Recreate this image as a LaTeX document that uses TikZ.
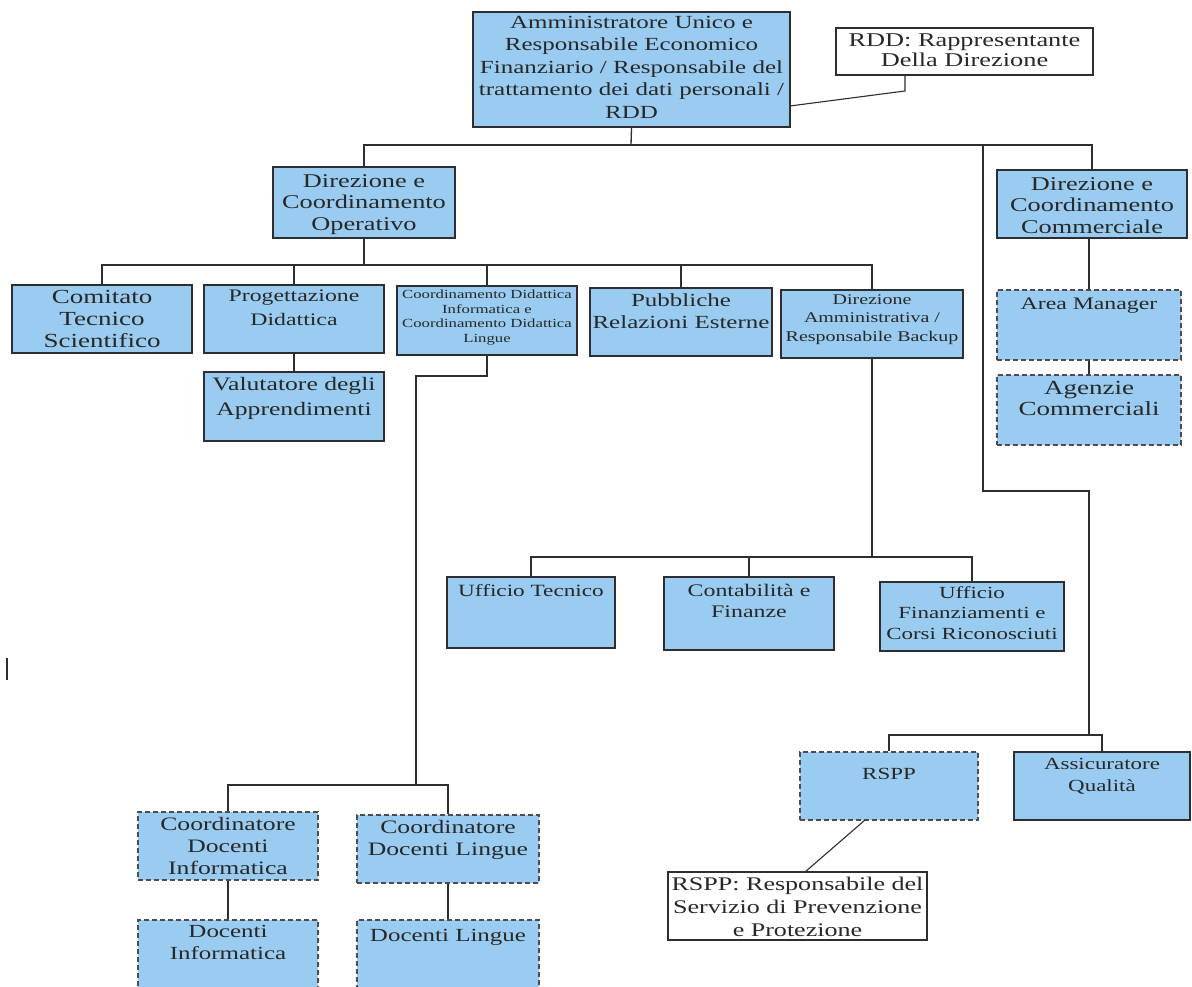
\documentclass[tikz,border=0pt]{standalone}
\usepackage{fontspec}
\setmainfont[FakeStretch=1.35]{Liberation Serif}
\usetikzlibrary{fit}
\definecolor{boxblue}{RGB}{153,204,240}
\definecolor{edge}{RGB}{45,45,50}
\definecolor{ink}{RGB}{40,40,40}
\tikzset{
  solidbox/.style={draw=edge, line width=1.8pt, fill=boxblue, inner sep=0pt, rectangle},
  dashbox/.style={draw=edge!85, line width=1.8pt, dash pattern=on 5pt off 3pt, fill=boxblue, inner sep=0pt, rectangle},
  notebox/.style={draw=edge, line width=1.4pt, fill=white, inner sep=0pt, rectangle},
  lbl/.style={anchor=north, align=center, inner sep=0pt, text=ink},
  fs/.style 2 args={font=\fontsize{#1}{#2}\selectfont},
  conn/.style={draw=edge, line width=1.3pt},
}
% name, box style, x1, y1, x2, y2, text top, font style, text
\newcommand{\orgbox}[9]{%
  \node (#1) [#2, fit={(#3,#4) (#5,#6)}] {};
  \node (#1t) [lbl, #8] at ({(#3+#5)/2}, #7) {#9};
}
\begin{document}
\begin{tikzpicture}[x=1pt, y=-1pt]
\useasboundingbox (0,0) rectangle (1192,987);
\fill[white] (0,0) rectangle (1192,987);

% ---- junction points ----
\coordinate (bus1) at (631,145);
\coordinate (r1) at (983,145);
\coordinate (r2) at (983,491);
\coordinate (r3) at (1089,491);
\coordinate (r4) at (1089,735);
\coordinate (bus2) at (364,265);
\coordinate (c2) at (416,376);
\coordinate (bus3) at (416,785);
\coordinate (bus4) at (872,557);
\coordinate (rddA) at (790,106);
\coordinate (rddB) at (905,91);
\coordinate (n1) at (865,820);
\coordinate (n2) at (805,872);

% ---- boxes ----
\orgbox{top}{solidbox}{473}{12}{790}{127}{16}{fs={18.5}{22.5}}{Amministratore Unico e\\Responsabile Economico\\Finanziario / Responsabile del\\trattamento dei dati personali /\\RDD}
\orgbox{rdd}{notebox}{836}{28}{1093}{75}{34}{fs={19.5}{20}}{RDD: Rappresentante\\Della Direzione}

\orgbox{dirop}{solidbox}{273}{167}{455}{238}{174}{fs={19.5}{21.5}}{Direzione e\\Coordinamento\\Operativo}
\orgbox{comm}{solidbox}{997}{170}{1187}{238}{177}{fs={19.5}{21.5}}{Direzione e\\Coordinamento\\Commerciale}

\orgbox{comit}{solidbox}{12}{285}{192}{353}{290}{fs={20}{22}}{Comitato\\Tecnico\\Scientifico}
\orgbox{prog}{solidbox}{204}{285}{384}{353}{290}{fs={17.6}{24}}{Progettazione\\Didattica}
\orgbox{coord}{solidbox}{397}{286}{577}{355}{290}{fs={12.4}{14.5}}{Coordinamento Didattica\\Informatica e\\Coordinamento Didattica\\Lingue}
\orgbox{pubb}{solidbox}{590}{288}{772}{356}{293}{fs={18.5}{22.5}}{Pubbliche\\Relazioni Esterne}
\orgbox{dirammin}{solidbox}{781}{290}{963}{358}{295}{fs={14.8}{18}}{Direzione\\Amministrativa /\\Responsabile Backup}

\orgbox{valut}{solidbox}{204}{372}{384}{441}{377}{fs={19}{25}}{Valutatore degli\\Apprendimenti}

\orgbox{area}{dashbox}{997}{290}{1181}{360}{298}{fs={17.6}{22}}{Area Manager}
\orgbox{agenz}{dashbox}{997}{375}{1181}{445}{381}{fs={20}{21}}{Agenzie\\Commerciali}

\orgbox{uftec}{solidbox}{447}{577}{615}{648}{584}{fs={17.2}{21}}{Ufficio Tecnico}
\orgbox{contab}{solidbox}{664}{577}{834}{650}{584}{fs={17.7}{21}}{Contabilità e\\Finanze}
\orgbox{uffin}{solidbox}{880}{582}{1064}{651}{586}{fs={17}{20.5}}{Ufficio\\Finanziamenti e\\Corsi Riconosciuti}

\orgbox{rspp}{dashbox}{800}{752}{978}{820}{768}{fs={17}{21}}{RSPP}
\orgbox{assic}{solidbox}{1014}{752}{1190}{820}{758}{fs={17}{22}}{Assicuratore\\Qualità}
\orgbox{rsppn}{notebox}{668}{872}{927}{940}{877}{fs={19.3}{23}}{RSPP: Responsabile del\\Servizio di Prevenzione\\e Protezione}

\orgbox{cdi}{dashbox}{138}{812}{318}{880}{817}{fs={19}{22}}{Coordinatore\\Docenti\\Informatica}
\orgbox{cdl}{dashbox}{357}{815}{539}{883}{820}{fs={19}{22}}{Coordinatore\\Docenti Lingue}
\orgbox{di}{dashbox}{138}{920}{318}{995}{925}{fs={18.5}{22}}{Docenti\\Informatica}
\orgbox{dl}{dashbox}{357}{920}{539}{995}{929}{fs={18.5}{22}}{Docenti Lingue}

% ---- connectors ----
\draw[conn] (top.south) -- (bus1);
\draw[conn] (dirop.north) |- (bus1);
\draw[conn] (comm.north) |- (bus1);
\draw[conn] (r1) -- (r2) -- (r3) -- (r4);
\draw[conn] (rspp.north) |- (r4);
\draw[conn] (assic.north) |- (r4);
\draw[conn] (area.north) -- (area.north |- comm.south);
\draw[conn] (area.south) -- (agenz.north);

\draw[conn] (dirop.south) -- (bus2);
\draw[conn] (comit.north) |- (bus2);
\draw[conn] (dirammin.north) |- (bus2);
\draw[conn] (prog.north) -- (prog.north |- bus2);
\draw[conn] (coord.north) -- (coord.north |- bus2);
\draw[conn] (pubb.north) -- (pubb.north |- bus2);
\draw[conn] (prog.south) -- (valut.north);

\draw[conn] (coord.south) |- (c2) -- (bus3);
\draw[conn] (cdi.north) |- (bus3);
\draw[conn] (cdl.north) |- (bus3);
\draw[conn] (cdi.south) -- (di.north);
\draw[conn] (cdl.south) -- (dl.north);

\draw[conn] (dirammin.south) -- (bus4);
\draw[conn] (uftec.north) |- (bus4);
\draw[conn] (uffin.north) |- (bus4);
\draw[conn] (contab.north) -- (contab.north |- bus4);

\draw[conn, line width=1.1pt] (rddA) -- (rddB) -- (rddB |- rdd.south);
\draw[conn, line width=1.1pt] (n1) -- (n2);

% stray mark at left edge
\draw[edge, line width=2.2pt] (7,658) -- (7,680);
\end{tikzpicture}
\end{document}
